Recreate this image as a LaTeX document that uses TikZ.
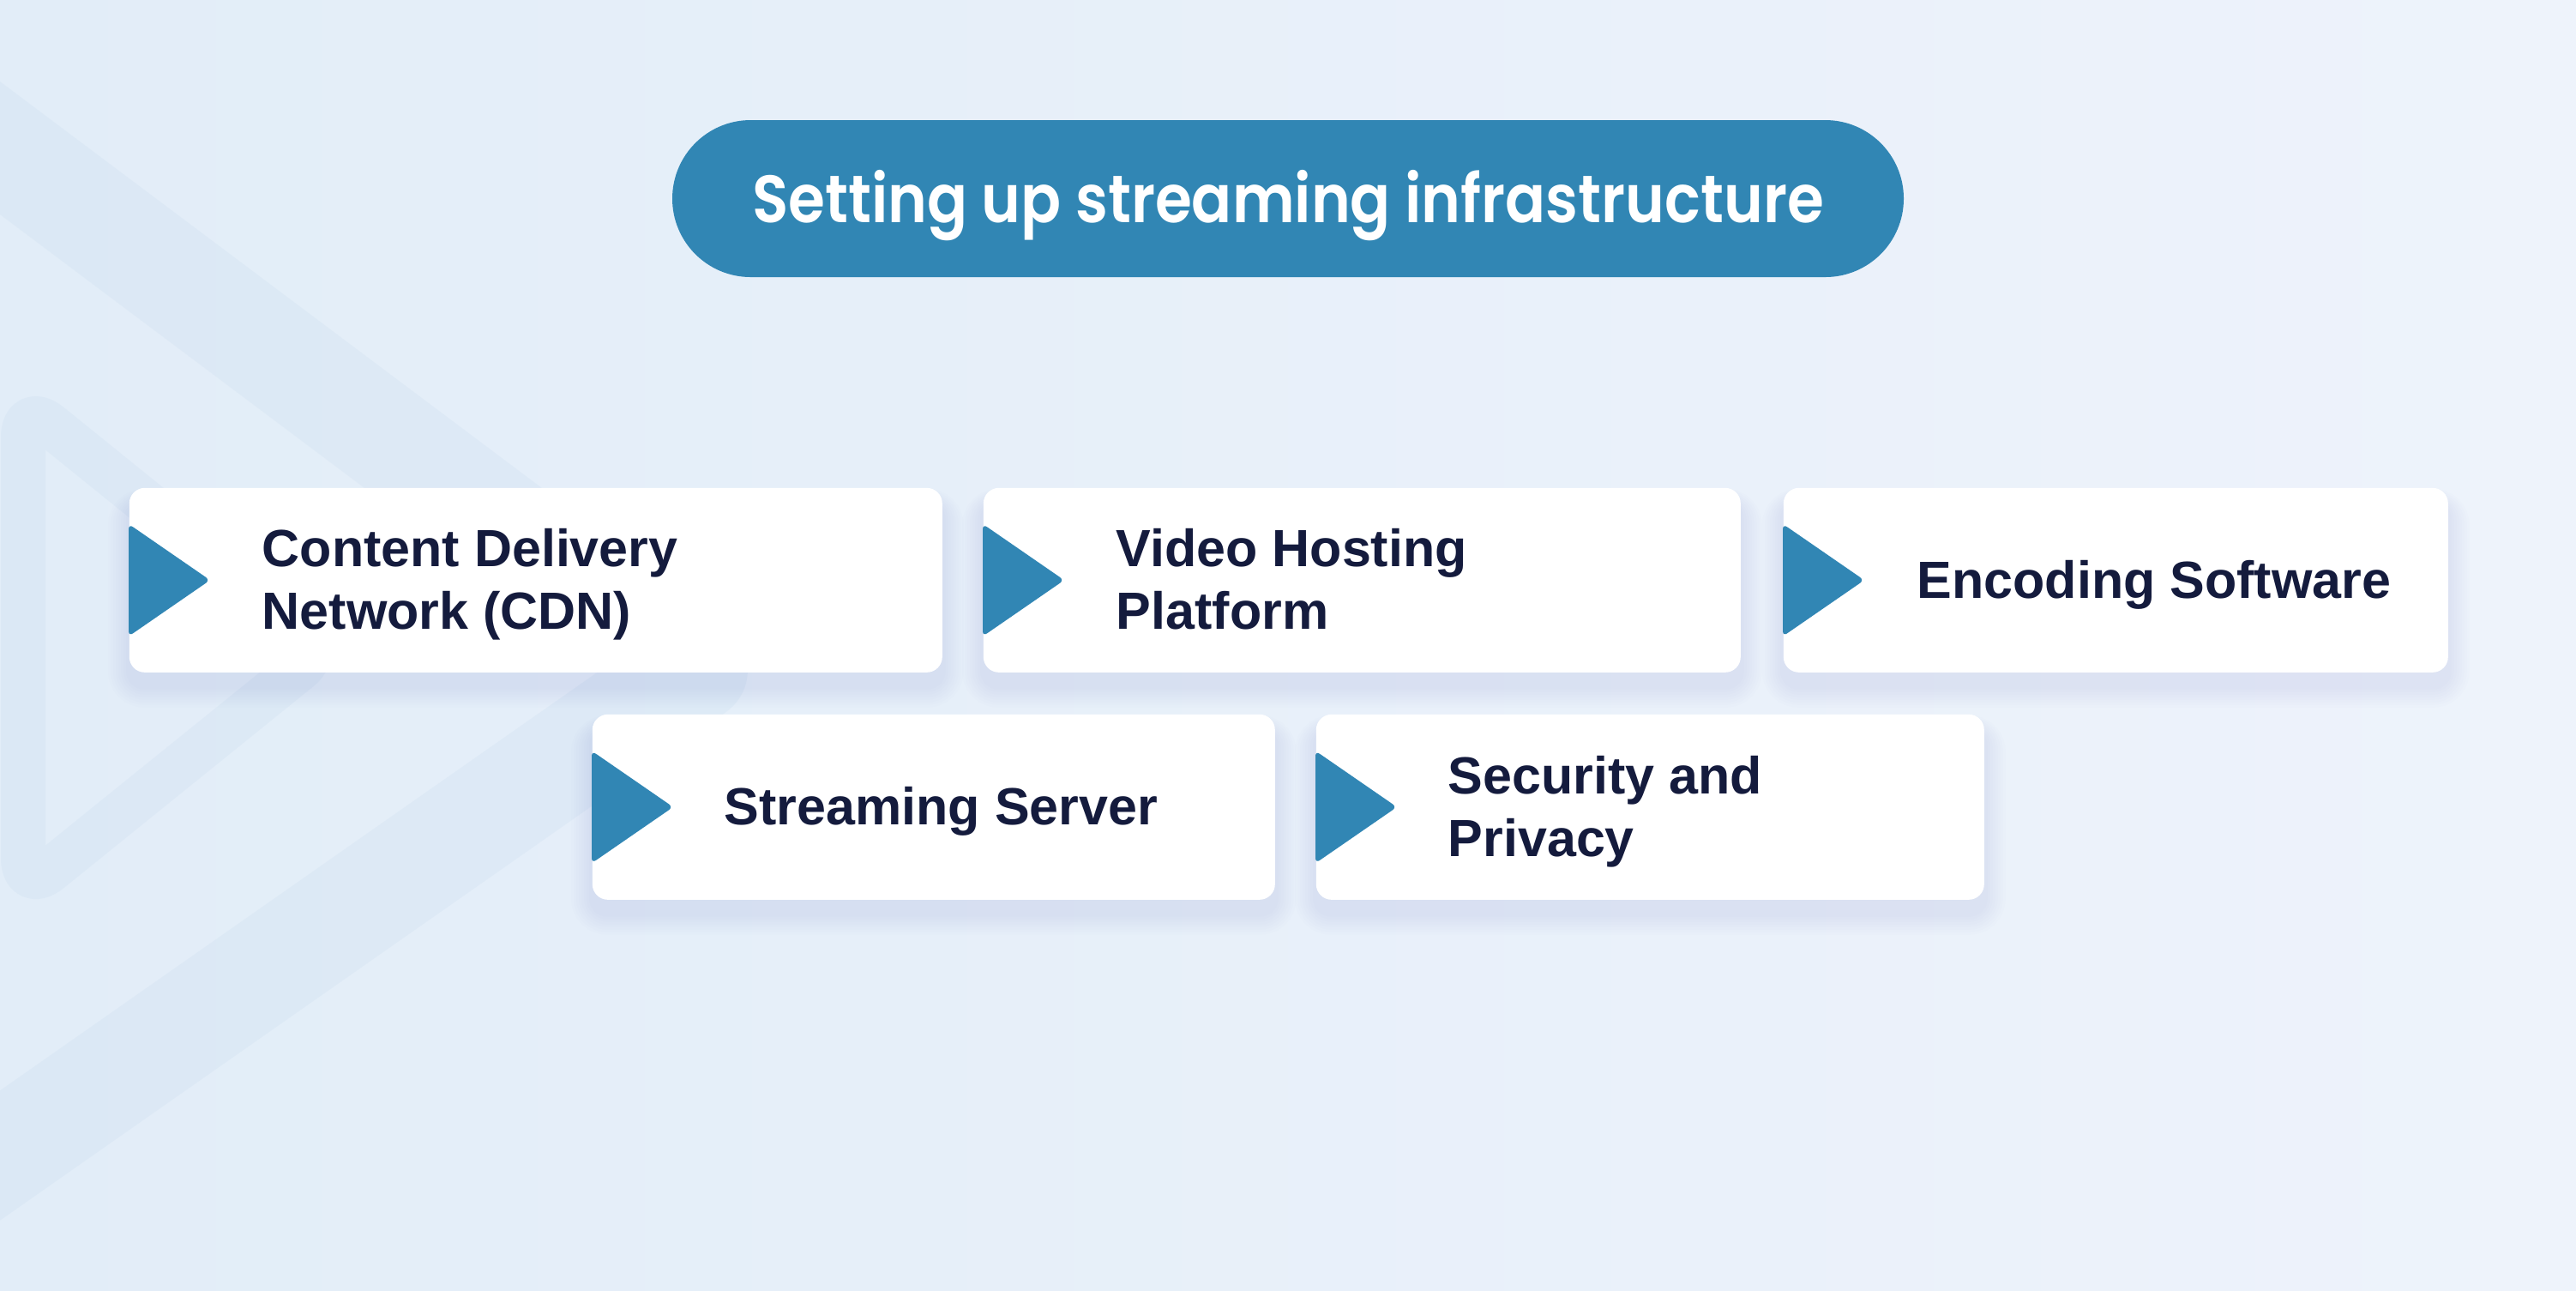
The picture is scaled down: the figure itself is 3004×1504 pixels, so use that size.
\documentclass[tikz,border=0pt]{standalone}
\usepackage{fontspec}
\setmainfont{Liberation Sans}
\newfontfamily\titlefont{Poppins SemiBold}[FakeStretch=0.89]
\usetikzlibrary{shapes.misc}
\definecolor{bgL}{HTML}{E2EDF8}
\definecolor{bgR}{HTML}{EEF3FB}
\definecolor{band}{HTML}{C9DCEF}
\definecolor{brand}{HTML}{3186B4}
\definecolor{ink}{HTML}{141B3D}
\definecolor{shadowcol}{HTML}{7E9BC0}
\pgfdeclarelayer{back}
\pgfdeclarelayer{shadowlayer}
\pgfsetlayers{back,shadowlayer,main}
\tikzset{
  card/.style={fill=white, rounded corners=4.5pt, inner sep=0pt, anchor=north west,
    minimum height=53.75pt},
  lbl/.style={font=\bfseries\fontsize{15.25pt}{18.25pt}\selectfont, text=ink, align=left,
    inner sep=0pt, anchor=base west},
  playmark/.style={fill=brand, rounded corners=1.5pt},
  pill/.style={rounded rectangle, fill=brand, minimum width=359pt, minimum height=45.75pt,
    inner sep=0pt, text=white, font=\titlefont\fontsize{19.5pt}{22pt}\selectfont,
    text height=13.75pt, text depth=0pt},
  bandline/.style={draw=band, line width=31pt, line join=round, line cap=round, opacity=.25},
  logoline/.style={draw=band, line width=13pt, line join=round, rounded corners=10pt, opacity=.25},
  softshadow/.style={fill=shadowcol, opacity=0.016}
}
\begin{document}
\begin{tikzpicture}[x=0.25pt,y=-0.25pt]
\useasboundingbox (0,0) rectangle (3004,1504);
\begin{pgfonlayer}{back}
\shade[left color=bgL, right color=bgR] (0,0) rectangle (3004,1504);
\begin{scope}
  \clip (0,0) rectangle (3004,1504);
  \draw[bandline] (-150,60) -- (810,780) -- (-150,1452);
  \draw[logoline] (27,470) -- (380,755) -- (27,1040) -- cycle;
\end{scope}
\end{pgfonlayer}

% title
\node[pill] (title) at (1502,231.5) {Setting up streaming infrastructure};

% cards
\node[card, minimum width=237pt] (c1) at (150,568) {};
\node[card, minimum width=220.75pt] (c2) at (1146,568) {};
\node[card, minimum width=193.75pt] (c3) at (2079,568) {};
\node[card, minimum width=199pt, minimum height=54pt] (c4) at (690,832) {};
\node[card, minimum width=194.75pt, minimum height=54pt] (c5) at (1534,832) {};

% soft shadows
\begin{pgfonlayer}{shadowlayer}
\foreach \c in {c1,c2,c3,c4,c5}{
  \foreach \k in {1,...,8}{
    \pgfmathsetmacro{\rc}{4.5+0.75*\k}
    \fill[softshadow, rounded corners=\rc pt]
      ([shift={(-3*\k,18-2*\k)}]\c.north west) rectangle ([shift={(3*\k,16+3*\k)}]\c.south east);
  }
}
\end{pgfonlayer}

% play marks
\foreach \c in {c1,c2,c3,c4,c5}{
  \fill[playmark] (\c.west) ++(0,-65.5) -- ++(95,65.5) -- ++(-95,65.5) -- cycle;
}

% labels (anchor = baseline of last line)
\node[lbl] (t1) at (305,733.5) {Content Delivery\\Network (CDN)};
\node[lbl] (t2) at (1301,733.5) {Video Hosting\\Platform};
\node[lbl] (t3) at (2235,697) {Encoding Software};
\node[lbl] (t4) at (844,961.5) {Streaming Server};
\node[lbl] (t5) at (1688,998) {Security and\\Privacy};
\end{tikzpicture}
\end{document}
